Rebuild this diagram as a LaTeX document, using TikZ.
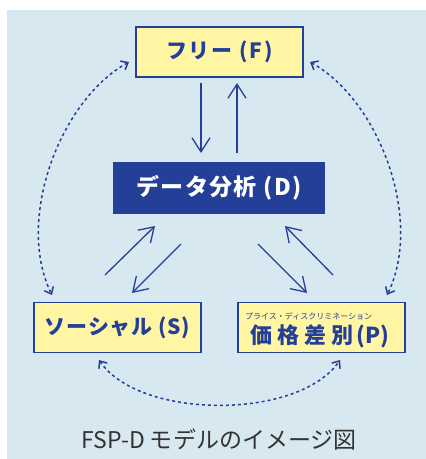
\documentclass[tikz,border=0pt]{standalone}
\usepackage{fontspec}
\setmainfont{Noto Sans CJK JP}
\usetikzlibrary{arrows.meta}
\definecolor{bgblue}{HTML}{D8E8F1}
\definecolor{boxyellow}{HTML}{FFF5A3}
\definecolor{navy}{HTML}{243F97}
\definecolor{captiongray}{HTML}{333333}
\tikzset{
  ybox/.style={draw=navy, line width=1.3pt, fill=boxyellow, minimum width=167pt, minimum height=50pt, inner sep=0pt, text=navy, font=\bfseries\fontsize{21}{21}\selectfont\addfontfeature{LetterSpace=4}},
  dbox/.style={fill=navy, minimum width=212pt, minimum height=52pt, inner sep=0pt, text=white, font=\bfseries\fontsize{23}{23}\selectfont\addfontfeature{LetterSpace=6}},
  flow/.style={draw=navy, line width=1.3pt, -{Straight Barb[length=14pt,width=18pt,line width=1.3pt]}},
  loop/.style={draw=navy, line width=1.5pt, dash pattern=on 3pt off 3pt, {Straight Barb[length=6pt,width=10pt,line width=1.5pt]}-{Straight Barb[length=6pt,width=10pt,line width=1.5pt]}}
}
\begin{document}
\begin{tikzpicture}[x=1pt,y=-1pt]
\useasboundingbox (0,0) rectangle (426,459);
\fill[bgblue] (7,10) rectangle (426,459);
% boxes
\node[ybox, font=\bfseries\fontsize{21}{21}\selectfont\addfontfeature{LetterSpace=9}] (F) at (219.5,52) {フリー (F)};
\node[dbox] (D) at (219,188) {データ分析 (D)};
\node[ybox] (S) at (117.5,327.5) {ソーシャル (S)};
\node[ybox] (P) at (321.5,327.5) {};
\node[text=navy, font=\fontsize{8}{8}\selectfont, anchor=west, inner sep=0pt] (Pr) at (245,316) {プライス・ディスクリミネーション};
\node[text=navy, font=\bfseries\fontsize{22}{22}\selectfont] (Pm) at (320,336) {価\hspace{5pt}格\hspace{5pt}差\hspace{5pt}別\hspace{3pt}(P)};
% connector end points
\coordinate (f1) at (201,83); \coordinate (d1) at (201,153);
\coordinate (d2) at (237,153); \coordinate (f2) at (237,83);
\coordinate (s1) at (105,275); \coordinate (d3) at (155,226);
\coordinate (d4) at (181,244); \coordinate (s2) at (132,293);
\coordinate (d5) at (258,244); \coordinate (p1) at (307,293);
\coordinate (p2) at (333,275); \coordinate (d6) at (285,226);
\draw[flow] (f1) -- (d1);
\draw[flow] (d2) -- (f2);
\draw[flow] (s1) -- (d3);
\draw[flow] (d4) -- (s2);
\draw[flow] (d5) -- (p1);
\draw[flow] (p2) -- (d6);
% dotted loops
\coordinate (fl) at (129,62); \coordinate (sl) at (52,295);
\coordinate (fr) at (310,62); \coordinate (pr) at (387,295);
\coordinate (sb) at (99,360); \coordinate (pb) at (340,360);
\draw[loop] (fl) .. controls (60,100) and (15,220) .. (sl);
\draw[loop] (fr) .. controls (379,100) and (424,220) .. (pr);
\draw[loop] (sb) .. controls (140,420) and (299,420) .. (pb);
% caption
\node[text=captiongray, font=\fontsize{23}{23}\selectfont] (cap) at (219,440) {FSP-D モデルのイメージ図};
\end{tikzpicture}
\end{document}
